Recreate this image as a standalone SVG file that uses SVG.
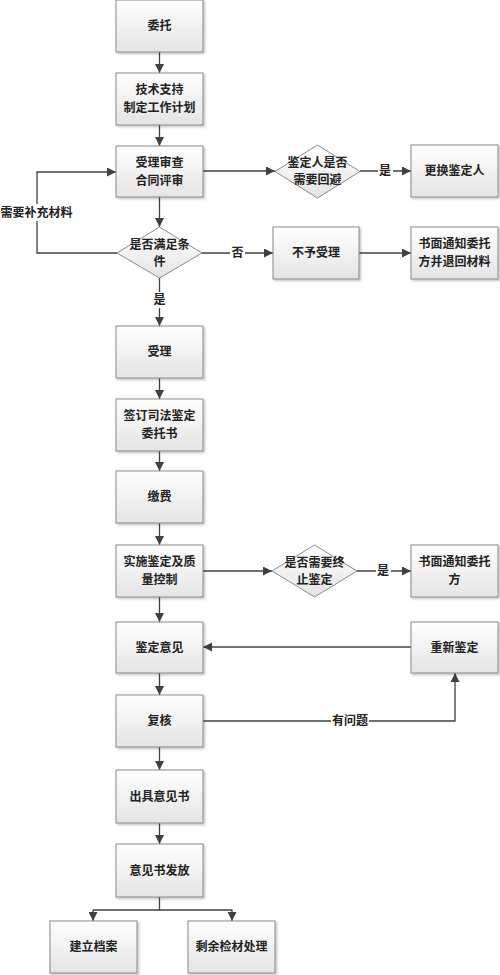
<svg xmlns="http://www.w3.org/2000/svg" width="500" height="975" viewBox="0 0 500 975">
<defs>
<linearGradient id="g" x1="0" y1="0" x2="0" y2="1">
<stop offset="0" stop-color="#ffffff"/>
<stop offset="1" stop-color="#e4e4e4"/>
</linearGradient>
<filter id="sh" x="-10%" y="-10%" width="130%" height="130%">
<feDropShadow dx="1.5" dy="1.5" stdDeviation="1" flood-color="#000" flood-opacity="0.25"/>
</filter>
<marker id="ar" viewBox="0 0 10 10" refX="10" refY="5" markerWidth="9" markerHeight="9" markerUnits="userSpaceOnUse" orient="auto">
<path d="M0,0 L10,5 L0,10 Z" fill="#404040"/>
</marker>
</defs>
<style>
.box{fill:url(#g);stroke:#8a8a8a;stroke-width:1;filter:url(#sh)}
.dia{fill:url(#g);stroke:#8a8a8a;stroke-width:1}
.t{font-family:"Noto Sans CJK SC","Noto Sans",sans-serif;font-size:12px;font-weight:bold;fill:#222;text-anchor:middle}
.c{fill:none;stroke:#404040;stroke-width:1.3}
.a{marker-end:url(#ar)}
.lb{fill:#fff}
</style>
<rect width="500" height="975" fill="#fff"/>

<g id="connectors">
<path class="c a" d="M159.5,52 V73"/>
<path class="c a" d="M159.5,125 V146"/>
<path class="c a" d="M159.5,197 V227"/>
<path class="c a" d="M159.5,278 V326"/>
<path class="c a" d="M117,253 H37 V172 H116"/>
<path class="c a" d="M203,171 H275"/>
<path class="c a" d="M360,171 H411"/>
<path class="c a" d="M202,253 H273"/>
<path class="c a" d="M359,253 H411"/>
<path class="c a" d="M159.5,378 V399"/>
<path class="c a" d="M159.5,451 V471"/>
<path class="c a" d="M159.5,523 V545"/>
<path class="c a" d="M159.5,597 V622"/>
<path class="c a" d="M159.5,673 V695"/>
<path class="c a" d="M159.5,747 V770"/>
<path class="c a" d="M159.5,823 V844"/>
<path class="c a" d="M203,571 H272"/>
<path class="c a" d="M357,571 H411"/>
<path class="c a" d="M411,647 H203"/>
<path class="c a" d="M203,721 H455 V673"/>
<path class="c" d="M159.5,897 V910"/>
<path class="c a" d="M93,910 V921"/>
<path class="c a" d="M93,910 H232 V921"/>
<rect class="lb" x="0" y="204" width="73" height="17"/>
<text class="t" x="36.5" y="217">需要补充材料</text>
<rect class="lb" x="230" y="245" width="15" height="16"/>
<text class="t" x="237.5" y="257">否</text>
<rect class="lb" x="152" y="292" width="15" height="16"/>
<text class="t" x="159.5" y="304">是</text>
<rect class="lb" x="378" y="163" width="15" height="16"/>
<text class="t" x="385" y="175">是</text>
<rect class="lb" x="376" y="563" width="15" height="16"/>
<text class="t" x="383" y="575">是</text>
<rect class="lb" x="331" y="713" width="38" height="16"/>
<text class="t" x="350" y="725">有问题</text>
</g>

<g id="n1"><rect class="box" x="116" y="0" width="87" height="52"/><text class="t" x="159.5" y="30">委托</text></g>
<g id="n2"><rect class="box" x="116" y="73" width="87" height="52"/><text class="t" x="159.5" y="94">技术支持</text><text class="t" x="159.5" y="112">制定工作计划</text></g>
<g id="n3"><rect class="box" x="116" y="146" width="87" height="51"/><text class="t" x="159.5" y="167">受理审查</text><text class="t" x="159.5" y="185">合同评审</text></g>
<g id="d1"><path class="dia" d="M159.5,227 L202,253 L159.5,278 L117,253 Z"/><text class="t" x="159.5" y="249">是否满足条</text><text class="t" x="159.5" y="266">件</text></g>
<g id="d2"><path class="dia" d="M317.5,145 L360,171.5 L317.5,198 L275,171.5 Z"/><text class="t" x="317.5" y="167">鉴定人是否</text><text class="t" x="317.5" y="184">需要回避</text></g>
<g id="n4"><rect class="box" x="411" y="145" width="87" height="52"/><text class="t" x="454.5" y="175">更换鉴定人</text></g>
<g id="n5"><rect class="box" x="273" y="227" width="86" height="52"/><text class="t" x="316" y="257">不予受理</text></g>
<g id="n6"><rect class="box" x="411" y="227" width="87" height="52"/><text class="t" x="454.5" y="248">书面通知委托</text><text class="t" x="454.5" y="266">方并退回材料</text></g>
<g id="n7"><rect class="box" x="116" y="326" width="87" height="52"/><text class="t" x="159.5" y="356">受理</text></g>
<g id="n8"><rect class="box" x="116" y="399" width="87" height="52"/><text class="t" x="159.5" y="420">签订司法鉴定</text><text class="t" x="159.5" y="438">委托书</text></g>
<g id="n9"><rect class="box" x="116" y="471" width="87" height="52"/><text class="t" x="159.5" y="501">缴费</text></g>
<g id="n10"><rect class="box" x="116" y="545" width="87" height="52"/><text class="t" x="159.5" y="566">实施鉴定及质</text><text class="t" x="159.5" y="584">量控制</text></g>
<g id="d3"><path class="dia" d="M314.5,545 L357,571 L314.5,597 L272,571 Z"/><text class="t" x="314.5" y="567">是否需要终</text><text class="t" x="314.5" y="584">止鉴定</text></g>
<g id="n11"><rect class="box" x="411" y="545" width="87" height="52"/><text class="t" x="454.5" y="566">书面通知委托</text><text class="t" x="454.5" y="584">方</text></g>
<g id="n12"><rect class="box" x="116" y="622" width="87" height="51"/><text class="t" x="159.5" y="652">鉴定意见</text></g>
<g id="n13"><rect class="box" x="411" y="622" width="87" height="51"/><text class="t" x="454.5" y="652">重新鉴定</text></g>
<g id="n14"><rect class="box" x="116" y="695" width="87" height="52"/><text class="t" x="159.5" y="725">复核</text></g>
<g id="n15"><rect class="box" x="116" y="770" width="87" height="53"/><text class="t" x="159.5" y="801">出具意见书</text></g>
<g id="n16"><rect class="box" x="116" y="844" width="87" height="53"/><text class="t" x="159.5" y="875">意见书发放</text></g>
<g id="n17"><rect class="box" x="50" y="921" width="87" height="52"/><text class="t" x="93.5" y="951">建立档案</text></g>
<g id="n18"><rect class="box" x="188" y="921" width="87" height="52"/><text class="t" x="231.5" y="951">剩余检材处理</text></g>
</svg>
